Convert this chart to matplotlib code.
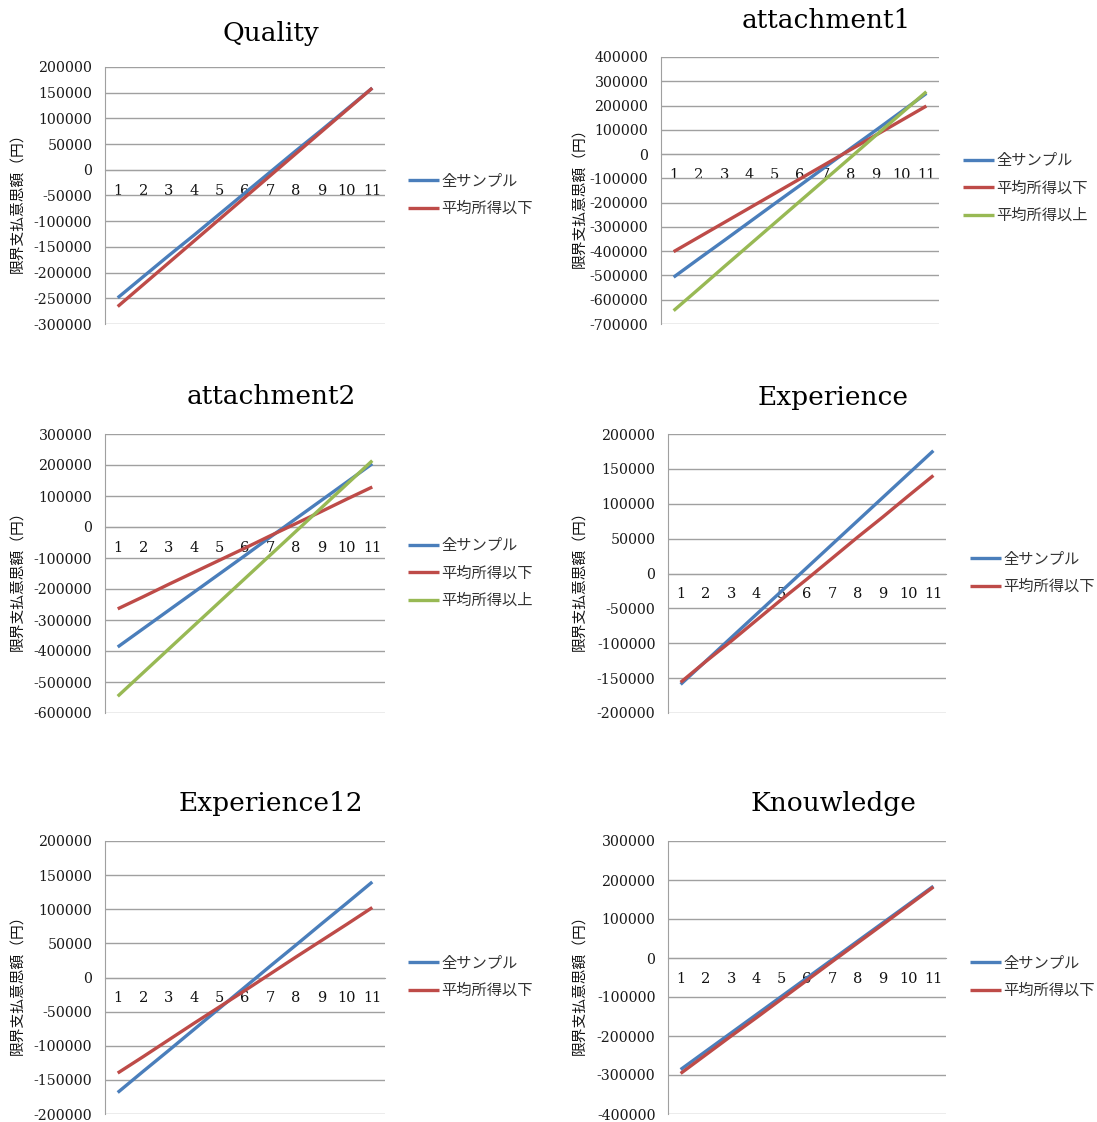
import matplotlib
matplotlib.use("Agg")
import matplotlib.pyplot as plt
from matplotlib.ticker import FixedLocator

plt.rcParams['axes.unicode_minus'] = False

W, H = 1097, 1122

categories = list(range(1, 12))
series_names = ["全サンプル", "平均所得以下", "平均所得以上"]
colors = ["#4A7EBB", "#BE4B48", "#98B954"]
ylabel_text = "限界支払意思額（円）"

titles = ["Quality", "attachment1", "attachment2", "Experience", "Experience12", "Knouwledge"]

quality_all = [-249000, -208000, -167000, -127000, -86000, -45000, -4000, 37000, 77000, 118000, 159000]
quality_low = [-266000, -223500, -181000, -138500, -96000, -53500, -11000, 31500, 74000, 116500, 159000]

att1_all = [-507000, -431000, -356000, -280000, -204000, -129000, -53000, 23000, 98000, 174000, 250000]
att1_low = [-402000, -342000, -282000, -222000, -162000, -102000, -42000, 18000, 78000, 138000, 198000]
att1_high = [-645000, -555000, -464000, -374000, -284000, -194000, -104000, -14000, 77000, 167000, 257000]

att2_all = [-387000, -328000, -269000, -210000, -151000, -92000, -32000, 27000, 86000, 145000, 204000]
att2_low = [-264000, -225000, -185000, -146000, -107000, -68000, -28000, 11000, 50000, 90000, 129000]
att2_high = [-546000, -470000, -394000, -318000, -242000, -166000, -90000, -14000, 62000, 138000, 214000]

exp_all = [-159000, -125500, -92000, -58500, -25000, 8500, 42000, 75500, 109000, 142500, 176000]
exp_low = [-156000, -126000, -97000, -67000, -37000, -8000, 22000, 52000, 81000, 111000, 140500]

exp12_all = [-168500, -137500, -107000, -76000, -45000, -14000, 17000, 47500, 78500, 109000, 140000]
exp12_low = [-140000, -116000, -91500, -67000, -43000, -19000, 5500, 30000, 54000, 78000, 102500]

know_all = [-286000, -239000, -192000, -145000, -98000, -51000, -4000, 43000, 90000, 137000, 184000]
know_low = [-296000, -248000, -200000, -153000, -105000, -57000, -9000, 38500, 86000, 134000, 182000]

y_ranges = [(-300000, 200000, 50000), (-700000, 400000, 100000), (-600000, 300000, 100000),
            (-200000, 200000, 50000), (-200000, 200000, 50000), (-400000, 300000, 100000)]

panel_data = [
    [quality_all, quality_low],
    [att1_all, att1_low, att1_high],
    [att2_all, att2_low, att2_high],
    [exp_all, exp_low],
    [exp12_all, exp12_low],
    [know_all, know_low],
]

# pixel boxes: left, right, top, bottom
boxes = [(105, 385, 67, 324), (661, 939, 57, 324), (105, 385, 434, 713),
         (668, 946, 434, 713), (105, 385, 841, 1114), (668, 946, 841, 1114)]
title_y = [33, 20, 397, 397, 804, 804]
legend_pos = [(408, 195), (963, 188), (408, 573), (970, 573), (408, 977), (970, 977)]
ylabel_x = [18, 580, 18, 580, 18, 580]

serif = "DejaVu Serif"
cjk = ["Noto Sans CJK JP", "DejaVu Sans"]
grid_c = "#A0A0A0"

fig = plt.figure(figsize=(W / 100, H / 100), dpi=100)

for i in range(6):
    l, r, t, b = boxes[i]
    ax = fig.add_axes([l / W, 1 - b / H, (r - l) / W, (b - t) / H])
    ax.spines['bottom'].set_position(('data', 0))
    ymin, ymax, step = y_ranges[i]
    for j, vals in enumerate(panel_data[i]):
        ax.plot(categories, vals, color=colors[j], lw=2.4, label=series_names[j],
                solid_capstyle='butt', zorder=3)
    ax.set_xlim(0.5, 11.5)
    ax.set_ylim(ymin, ymax)
    ticks = list(range(ymin, ymax + 1, step))
    ax.yaxis.set_major_locator(FixedLocator(ticks))
    ax.set_yticklabels([str(v) for v in ticks])
    ax.set_xticks(categories)
    ax.set_xticklabels([str(c) for c in categories])
    ax.tick_params(axis='y', length=0, pad=9, labelcolor='#1a1a1a',
                   labelfontfamily=serif, labelsize=10.2)
    ax.tick_params(axis='x', length=0, pad=10, labelcolor='#111111',
                   labelfontfamily=serif, labelsize=10.5)
    ax.spines['bottom'].set_color(grid_c)
    ax.spines['left'].set_color(grid_c)
    ax.spines['top'].set_visible(False)
    ax.spines['right'].set_visible(False)
    ax.grid(axis='y', color=grid_c, lw=1)
    ax.set_axisbelow(True)
    ax.set_facecolor('none')

    ax.set_title(titles[i], fontfamily=serif, fontsize=19, x=(826 - 661) / 278,
                 y=1 + (t - title_y[i]) / (b - t), va='center', pad=0)

    ax.set_ylabel(ylabel_text, fontfamily=cjk, fontsize=10.6, va='center', ha='center',
                  color='#111111')
    ax.yaxis.set_label_coords(ylabel_x[i] / W, 1 - ((t + b) / 2 + 4) / H, transform=fig.transFigure)

    lx, ly = legend_pos[i]
    leg = ax.legend(loc='center left', bbox_to_anchor=(lx / W, 1 - ly / H),
                    bbox_transform=fig.transFigure, frameon=False, borderpad=0,
                    borderaxespad=0, handlelength=2.05, handletextpad=0.12,
                    labelspacing=0.68, prop={'family': cjk, 'size': 11})
    for txt in leg.get_texts():
        txt.set_color('#333333')

fig.savefig("out.png", dpi=100, facecolor='white')
